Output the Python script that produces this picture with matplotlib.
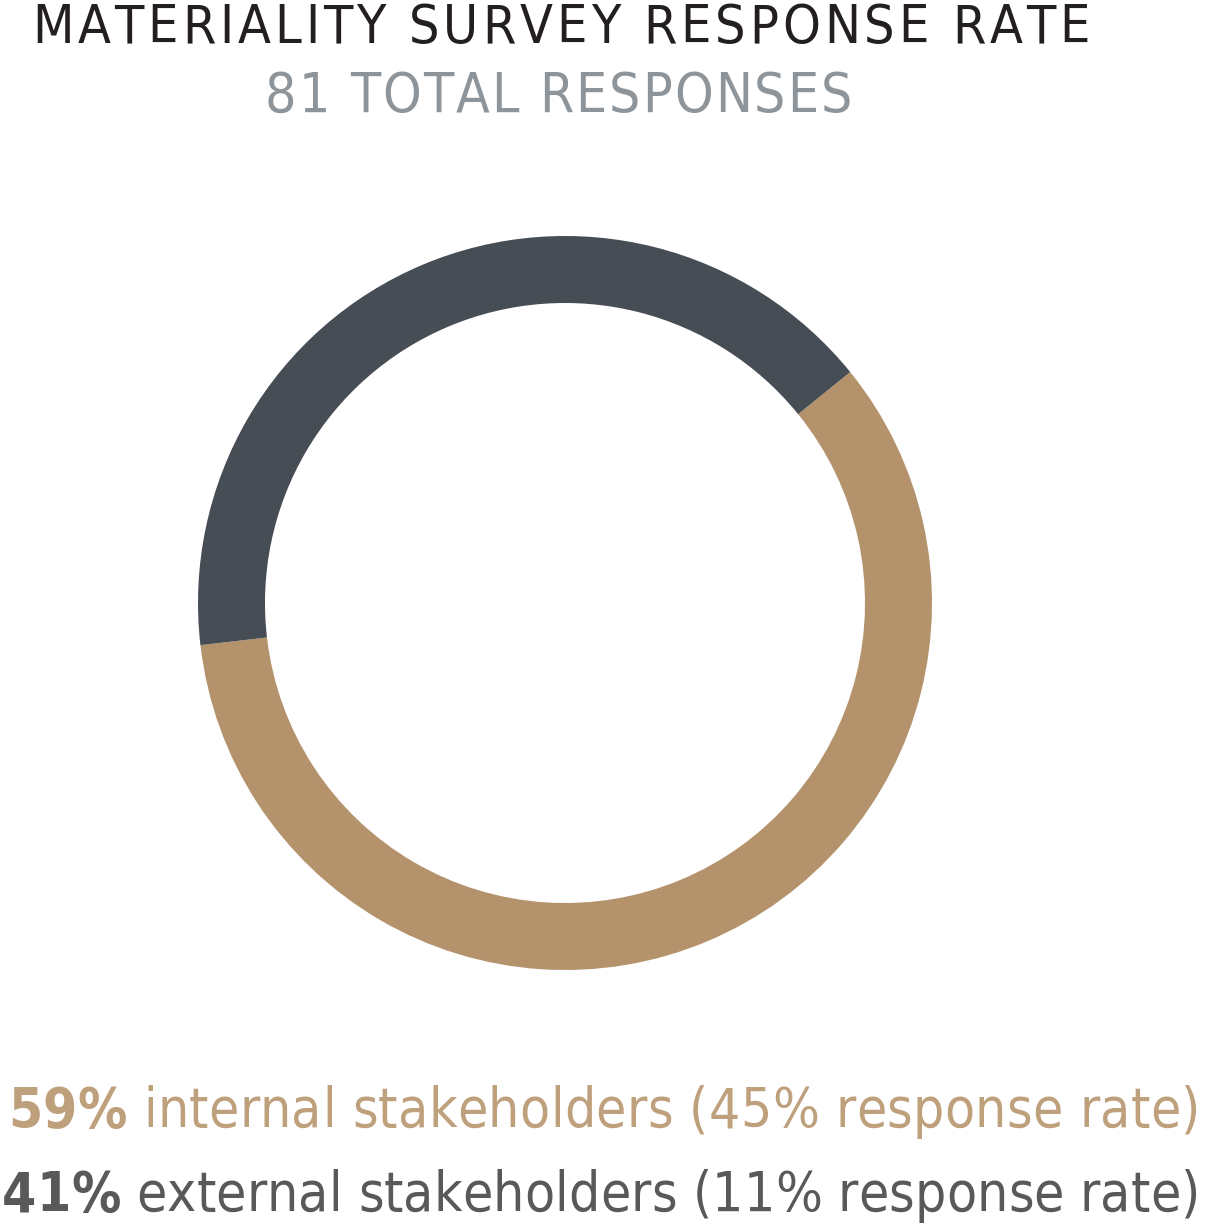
import matplotlib
matplotlib.use("Agg")
import matplotlib.pyplot as plt
from matplotlib.font_manager import FontProperties, findfont
from matplotlib.textpath import TextPath, TextToPath

W, H, DPI = 1207, 1223, 100

# data
title = "MATERIALITY SURVEY RESPONSE RATE"
subtitle = "81 TOTAL RESPONSES"
groups = ["internal stakeholders", "external stakeholders"]
shares = [59, 41]
rates = [45, 11]
ring_colors = ["#b3926c", "#474d55"]
label_colors = ["#bfa07c", "#58595b"]

# narrow face if there is one
FAMILY, STRETCH = "DejaVu Sans", "normal"
for fam, st in [("Liberation Sans Narrow", "normal"), ("DejaVu Sans", "condensed")]:
    try:
        path = findfont(FontProperties(family=fam, stretch=st), fallback_to_default=False)
        if st == "normal" or "ondensed" in path:
            FAMILY, STRETCH = fam, st
            break
    except Exception:
        pass

ttp = TextToPath()


def fprop(weight, size):
    return FontProperties(family=FAMILY, stretch=STRETCH, weight=weight, size=size)


def draw_line(fig, segments, x0, x1, baseline, cap_px):
    # size from cap height (shrunk if too wide), letters spread to span x0..x1
    cap = TextPath((0, 0), "H", prop=fprop("normal", 100)).get_extents().height / 100
    size = cap_px * 72 / DPI / cap

    def measure(sz):
        out = []
        for s, weight, color in segments:
            p = fprop(weight, sz)
            for ch in s:
                w, _, _ = ttp.get_text_width_height_descent(ch, p, ismath=False)
                out.append((ch, p, color, w * DPI / 72))
        return out

    chars = measure(size)
    natural = sum(c[3] for c in chars)
    if natural > x1 - x0:
        size *= (x1 - x0) / natural
        chars = measure(size)
        natural = sum(c[3] for c in chars)
    gap = max(0.0, (x1 - x0 - natural) / (len(chars) - 1))
    x = x0
    for ch, p, color, w in chars:
        if ch != " ":
            fig.text(x / W, 1 - baseline / H, ch, fontproperties=p, color=color,
                     ha="left", va="baseline")
        x += w + gap


fig = plt.figure(figsize=(W / DPI, H / DPI), dpi=DPI)

# donut
cx, cy, r = 565, 603, 367
ax = fig.add_axes([(cx - r) / W, (H - cy - r) / H, 2 * r / W, 2 * r / H])
ax.pie(shares, colors=ring_colors, startangle=186.6, counterclock=True, radius=1,
       wedgeprops=dict(width=67 / r, linewidth=0))
ax.set_xlim(-1, 1)
ax.set_ylim(-1, 1)
ax.set_aspect("equal")
ax.axis("off")

draw_line(fig, [(title, "normal", "#231f20")], 32, 1090, 43, 39)
draw_line(fig, [(subtitle, "normal", "#8e959a")], 265, 852, 112, 40)

baselines = [1127, 1211]
lefts = [8, 2]
for g, s, rt, c, b, xl in zip(groups, shares, rates, label_colors, baselines, lefts):
    draw_line(fig, [(f"{s}%", "bold", c), (f" {g} ({rt}% response rate)", "normal", c)],
              xl, 1200, b, 40)

fig.savefig("out.png", dpi=DPI)
